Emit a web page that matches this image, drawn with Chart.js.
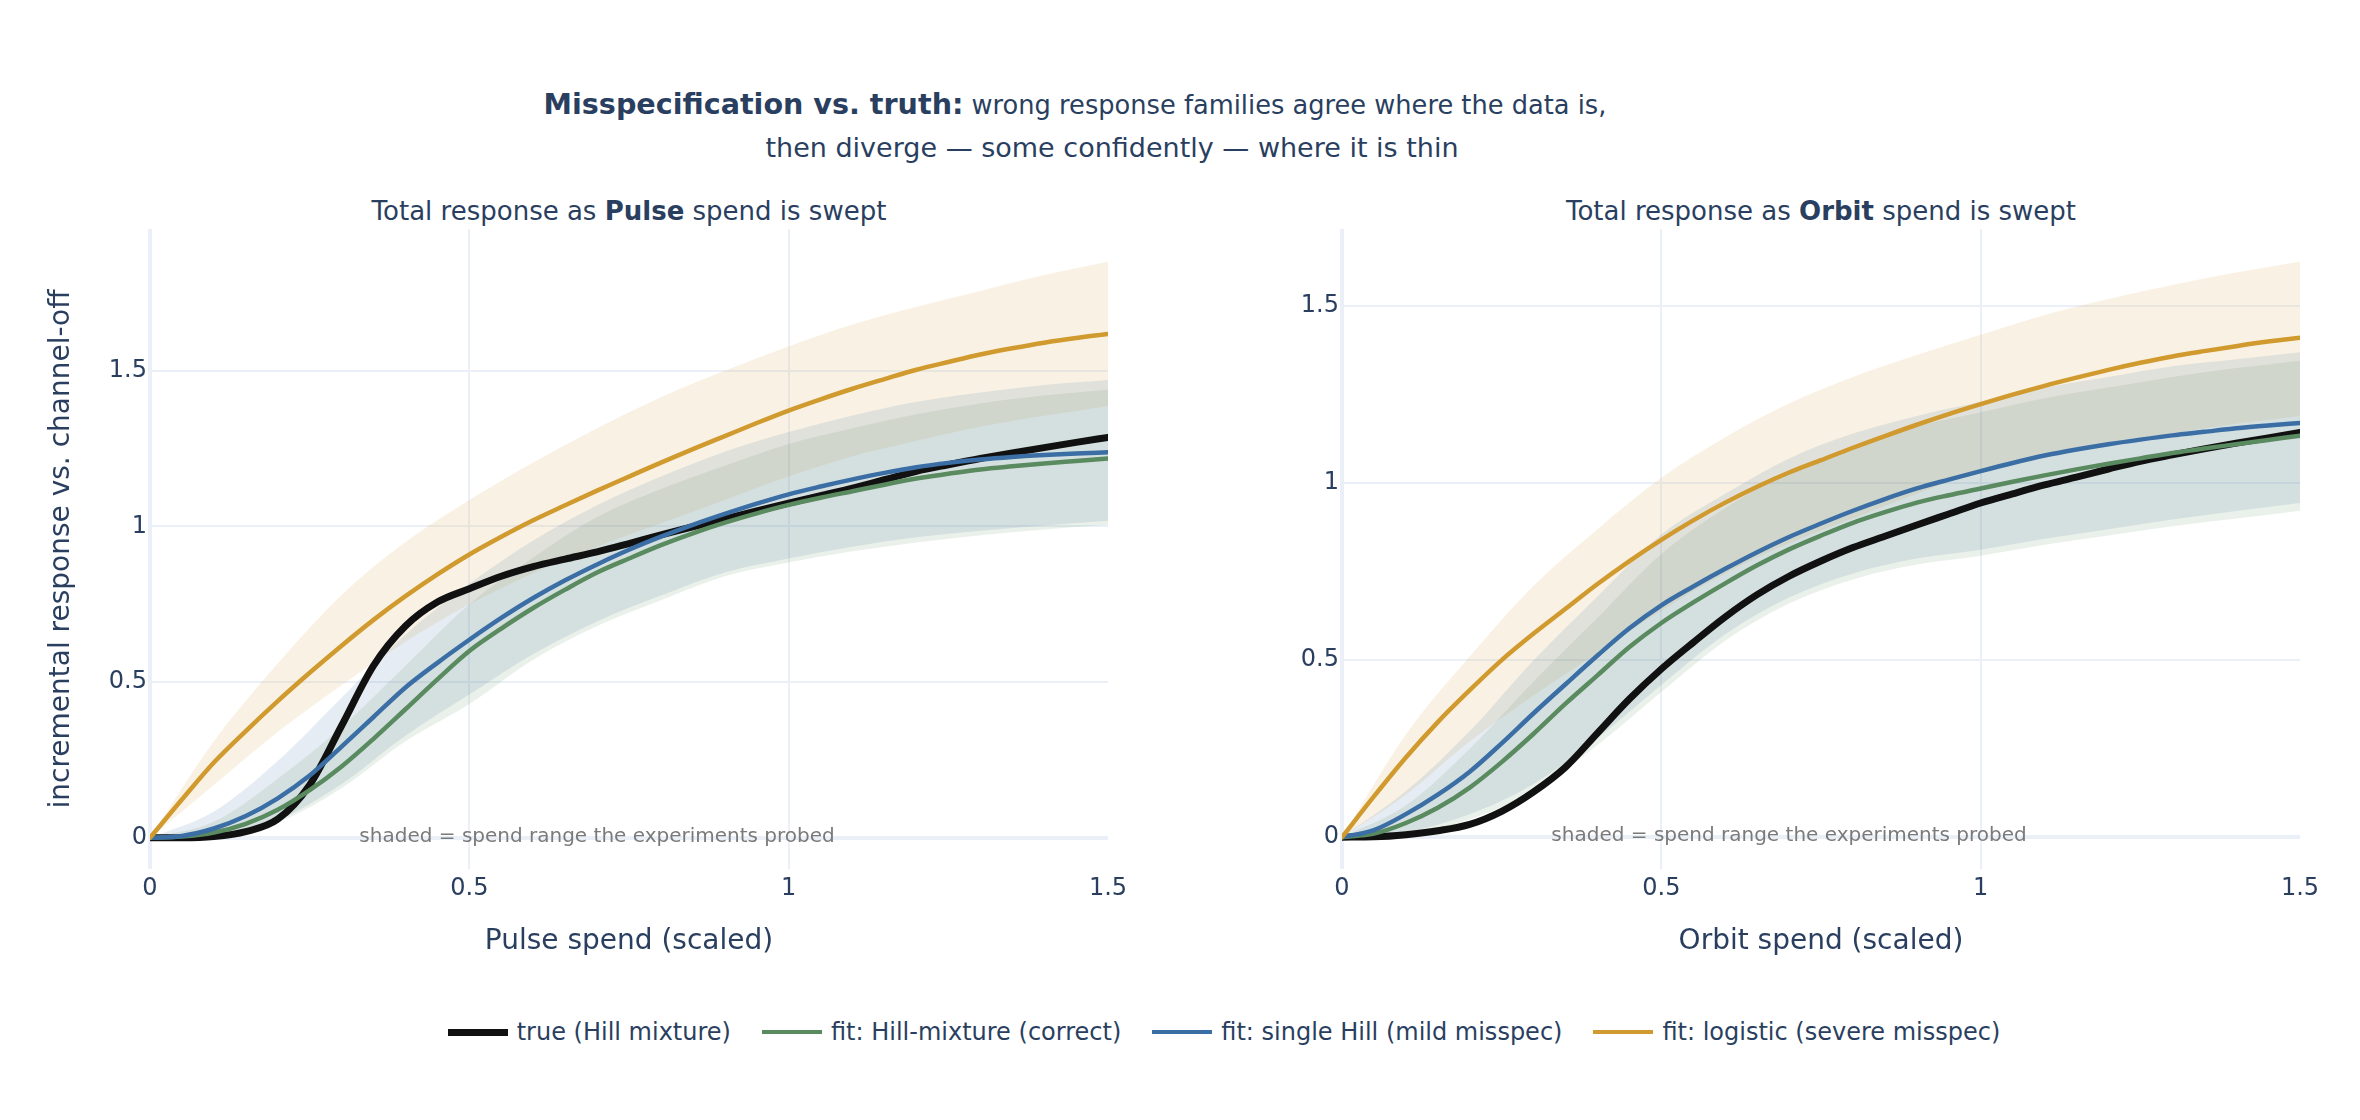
<!DOCTYPE html>
<html>
<head>
<meta charset="utf-8">
<script src="https://cdn.jsdelivr.net/npm/chart.js@4.4.1/dist/chart.umd.min.js"></script>
<style>
  body { margin: 0; width: 2360px; height: 1120px; background: #fff; position: relative; overflow: hidden;
         font-family: "DejaVu Sans", sans-serif; color: #2a3f5f; }
  .line { position: absolute; width: 2000px; text-align: center; white-space: nowrap; line-height: 1.164; }
  canvas { position: absolute; top: 0; }
  #legend { position: absolute; left: 224px; width: 2000px; top: 1017px; height: 30px;
            display: flex; justify-content: center; align-items: center; font-size: 24px; }
  .item { display: flex; align-items: center; margin-right: 31px; white-space: nowrap; }
  .item:last-child { margin-right: 0; }
  .swatch { width: 60px; margin-right: 9px; }
</style>
</head>
<body>
<div class="line" style="left:75px; top:88px; font-size:25.7px;"><b style="font-size:28.6px">Misspecification vs. truth:</b> wrong response families agree where the data is,</div>
<div class="line" style="left:112px; top:132px; font-size:27px;">then diverge — some confidently — where it is thin</div>
<div class="line" style="left:-371px; top:196px; font-size:26px;">Total response as <b>Pulse</b> spend is swept</div>
<div class="line" style="left:821px; top:196px; font-size:26px;">Total response as <b>Orbit</b> spend is swept</div>

<canvas id="pulseChart" width="1180" height="1000" style="left:0px"></canvas>
<canvas id="orbitChart" width="1180" height="1000" style="left:1180px"></canvas>
<div id="legend"></div>

<script>
// spend grid for the curves and for the credible bands
const spendX = [0, 0.05, 0.1, 0.15, 0.2, 0.25, 0.3, 0.35, 0.4, 0.45, 0.5, 0.55, 0.6, 0.65, 0.7, 0.75,
  0.8, 0.85, 0.9, 0.95, 1, 1.05, 1.1, 1.15, 1.2, 1.25, 1.3, 1.35, 1.4, 1.45, 1.5];
const bandX = [0, 0.1, 0.2, 0.3, 0.4, 0.5, 0.6, 0.7, 0.8, 0.9, 1, 1.1, 1.2, 1.3, 1.4, 1.5];

// Pulse channel
const pulseTrue = [0, 0, 0.004, 0.02, 0.06, 0.17, 0.36, 0.553, 0.68, 0.757, 0.8, 0.84, 0.871, 0.895, 0.918, 0.945,
  0.973, 0.999, 1.024, 1.05, 1.075, 1.099, 1.123, 1.15, 1.177, 1.198, 1.218, 1.236, 1.253, 1.27, 1.286];
const pulseHillMix = [0, 0.004, 0.017, 0.045, 0.09, 0.153, 0.229, 0.318, 0.413, 0.509, 0.6, 0.672, 0.738, 0.797, 0.852, 0.897,
  0.94, 0.978, 1.012, 1.042, 1.069, 1.092, 1.113, 1.134, 1.154, 1.169, 1.183, 1.193, 1.202, 1.21, 1.218];
const pulseSingleHill = [0, 0.006, 0.03, 0.07, 0.127, 0.2, 0.293, 0.388, 0.483, 0.562, 0.636, 0.706, 0.77, 0.827, 0.878, 0.925,
  0.967, 1.005, 1.04, 1.073, 1.103, 1.128, 1.151, 1.172, 1.19, 1.204, 1.215, 1.223, 1.229, 1.234, 1.238];
const pulseLogistic = [0, 0.123, 0.242, 0.343, 0.439, 0.53, 0.617, 0.7, 0.776, 0.846, 0.91, 0.967, 1.02, 1.068, 1.115, 1.16,
  1.205, 1.248, 1.29, 1.332, 1.372, 1.408, 1.442, 1.473, 1.503, 1.528, 1.552, 1.572, 1.59, 1.605, 1.618];
const pulseHillMixLo = [0, 0.006, 0.05, 0.16, 0.31, 0.43, 0.572, 0.68, 0.763, 0.84, 0.884, 0.92, 0.948, 0.972, 0.99, 1.005];
const pulseHillMixHi = [0, 0.052, 0.19, 0.356, 0.553, 0.75, 0.9, 1.03, 1.12, 1.195, 1.265, 1.315, 1.36, 1.395, 1.42, 1.44];
const pulseSingleHillLo = [0, 0.005, 0.057, 0.173, 0.328, 0.46, 0.59, 0.695, 0.778, 0.852, 0.897, 0.935, 0.965, 0.986, 1.003, 1.018];
const pulseSingleHillHi = [0, 0.085, 0.247, 0.45, 0.653, 0.816, 0.955, 1.068, 1.16, 1.24, 1.303, 1.356, 1.4, 1.43, 1.454, 1.47];
const pulseLogisticLo = [0, 0.17, 0.34, 0.49, 0.63, 0.75, 0.85, 0.935, 1.01, 1.085, 1.16, 1.225, 1.275, 1.32, 1.355, 1.387];
const pulseLogisticHi = [0, 0.31, 0.56, 0.78, 0.95, 1.085, 1.205, 1.315, 1.415, 1.5, 1.578, 1.648, 1.705, 1.756, 1.807, 1.85];

// Orbit channel
const orbitTrue = [0, 0.001, 0.007, 0.018, 0.036, 0.073, 0.128, 0.198, 0.294, 0.39, 0.475, 0.55, 0.622, 0.685, 0.737, 0.78,
  0.818, 0.85, 0.882, 0.913, 0.944, 0.97, 0.995, 1.017, 1.04, 1.062, 1.08, 1.097, 1.113, 1.128, 1.143];
const orbitHillMix = [0, 0.01, 0.04, 0.083, 0.14, 0.212, 0.292, 0.377, 0.457, 0.537, 0.605, 0.663, 0.717, 0.768, 0.813, 0.852,
  0.888, 0.918, 0.945, 0.966, 0.985, 1.004, 1.022, 1.039, 1.055, 1.07, 1.085, 1.098, 1.11, 1.122, 1.134];
const orbitSingleHill = [0, 0.02, 0.065, 0.12, 0.185, 0.265, 0.35, 0.432, 0.513, 0.59, 0.655, 0.708, 0.758, 0.805, 0.848, 0.886,
  0.922, 0.955, 0.985, 1.01, 1.034, 1.057, 1.078, 1.095, 1.11, 1.123, 1.135, 1.145, 1.155, 1.163, 1.17];
const orbitLogistic = [0, 0.115, 0.225, 0.325, 0.415, 0.5, 0.575, 0.645, 0.715, 0.78, 0.84, 0.895, 0.945, 0.99, 1.03, 1.065,
  1.1, 1.133, 1.165, 1.195, 1.223, 1.25, 1.275, 1.298, 1.32, 1.34, 1.358, 1.373, 1.387, 1.4, 1.411];
const orbitHillMixLo = [0, 0.008, 0.05, 0.13, 0.26, 0.41, 0.555, 0.66, 0.728, 0.77, 0.795, 0.826, 0.852, 0.878, 0.9, 0.922];
const orbitHillMixHi = [0, 0.09, 0.25, 0.44, 0.62, 0.8, 0.93, 1.03, 1.1, 1.16, 1.2, 1.24, 1.27, 1.3, 1.325, 1.346];
const orbitSingleHillLo = [0, 0.015, 0.065, 0.15, 0.28, 0.43, 0.573, 0.677, 0.745, 0.787, 0.812, 0.843, 0.87, 0.897, 0.921, 0.944];
const orbitSingleHillHi = [0, 0.13, 0.3, 0.5, 0.68, 0.855, 0.97, 1.07, 1.14, 1.19, 1.23, 1.27, 1.3, 1.33, 1.35, 1.37];
const orbitLogisticLo = [0, 0.12, 0.27, 0.4, 0.52, 0.64, 0.745, 0.83, 0.9, 0.97, 1.035, 1.075, 1.11, 1.14, 1.168, 1.19];
const orbitLogisticHi = [0, 0.29, 0.51, 0.71, 0.87, 1.015, 1.13, 1.225, 1.3, 1.362, 1.419, 1.475, 1.52, 1.56, 1.595, 1.626];

const xTicks = [0, 0.5, 1, 1.5];
const yTicks = [0, 0.5, 1, 1.5];

const seriesNames = ['true (Hill mixture)', 'fit: Hill-mixture (correct)', 'fit: single Hill (mild misspec)', 'fit: logistic (severe misspec)'];
const seriesColors = ['#111111', '#5a8a5f', '#3b6ea5', '#d19a2e'];
const bandColors = ['', 'rgba(90,138,95,0.13)', 'rgba(59,110,165,0.13)', 'rgba(209,154,46,0.13)'];
const lineWidths = [7, 4.5, 4.5, 4.5];
const noteText = 'shaded = spend range the experiments probed';

Chart.defaults.font.family = '"DejaVu Sans", sans-serif';
Chart.defaults.color = '#2a3f5f';

const gridColor = '#ebf0f8';

const pts = (xs, ys) => xs.map((x, i) => ({ x: x, y: ys[i] }));

const probedNote = {
  id: 'probedNote',
  afterDatasetsDraw(chart) {
    const { ctx, scales } = chart;
    ctx.save();
    ctx.font = '20px "DejaVu Sans"';
    ctx.fillStyle = '#7a7a7a';
    ctx.textAlign = 'center';
    ctx.textBaseline = 'alphabetic';
    ctx.fillText(noteText, scales.x.getPixelForValue(0.7), scales.y.getPixelForValue(0) + 4);
    ctx.restore();
  }
};

function makeChart(id, lines, bands, yMax, yMin, yWidth, rightPad, xTitle, yTitle) {
  const datasets = [];
  // lines: drawn on top, orange first so it sits highest
  for (let k = 3; k >= 0; k--) {
    datasets.push({
      data: pts(spendX, lines[k]),
      borderColor: seriesColors[k],
      borderWidth: lineWidths[k],
      fill: false,
      pointRadius: 0,
      cubicInterpolationMode: 'monotone',
      borderJoinStyle: 'round',
      borderCapStyle: 'round'
    });
  }
  for (let k = 1; k <= 3; k++) {
    datasets.push({
      data: pts(bandX, bands[k][1]),
      borderWidth: 0,
      backgroundColor: bandColors[k],
      fill: '+1',
      pointRadius: 0,
      cubicInterpolationMode: 'monotone'
    });
    datasets.push({
      data: pts(bandX, bands[k][0]),
      borderWidth: 0,
      fill: false,
      pointRadius: 0,
      cubicInterpolationMode: 'monotone'
    });
  }

  const grid = {
    drawTicks: false,
    color: c => (c.tick && c.tick.value === 1.5 && c.scale.axis === 'x') ? 'rgba(0,0,0,0)' : gridColor,
    lineWidth: c => (c.tick && c.tick.value === 0) ? 4 : 2
  };

  return new Chart(document.getElementById(id), {
    type: 'line',
    data: { datasets: datasets },
    plugins: [probedNote],
    options: {
      responsive: false,
      animation: false,
      layout: { padding: { top: 229, right: rightPad, bottom: 41, left: 0 } },
      plugins: { legend: { display: false }, tooltip: { enabled: false } },
      scales: {
        x: {
          type: 'linear', min: 0, max: 1.5,
          afterBuildTicks: ax => { ax.ticks = xTicks.map(v => ({ value: v })); },
          afterFit: s => { s.height = 90; },
          grid: grid,
          border: { display: false },
          ticks: { padding: 5, font: { size: 24 }, maxRotation: 0, autoSkip: false, callback: v => String(v) },
          title: { display: true, text: xTitle, font: { size: 28 }, padding: 0 }
        },
        y: {
          type: 'linear', min: yMin, max: yMax,
          afterBuildTicks: ax => { ax.ticks = yTicks.map(v => ({ value: v })); },
          afterFit: s => { s.width = yWidth; },
          grid: grid,
          border: { display: false },
          ticks: { padding: 3, font: { size: 24 }, callback: v => String(v) },
          title: { display: !!yTitle, text: yTitle, font: { size: 28 }, padding: { top: 45, bottom: 0 } }
        }
      }
    }
  });
}

makeChart('pulseChart',
  [pulseTrue, pulseHillMix, pulseSingleHill, pulseLogistic],
  [null, [pulseHillMixLo, pulseHillMixHi], [pulseSingleHillLo, pulseSingleHillHi], [pulseLogisticLo, pulseLogisticHi]],
  1.955, -0.1, 150, 72, 'Pulse spend (scaled)', 'incremental response vs. channel-off');

makeChart('orbitChart',
  [orbitTrue, orbitHillMix, orbitSingleHill, orbitLogistic],
  [null, [orbitHillMixLo, orbitHillMixHi], [orbitSingleHillLo, orbitSingleHillHi], [orbitLogisticLo, orbitLogisticHi]],
  1.718, -0.09, 162, 60, 'Orbit spend (scaled)', '');

// legend
const legend = document.getElementById('legend');
seriesNames.forEach((name, i) => {
  const item = document.createElement('div');
  item.className = 'item';
  const sw = document.createElement('span');
  sw.className = 'swatch';
  sw.style.height = lineWidths[i] + 'px';
  sw.style.background = seriesColors[i];
  const label = document.createElement('span');
  label.textContent = name;
  item.appendChild(sw);
  item.appendChild(label);
  legend.appendChild(item);
});
</script>
</body>
</html>
